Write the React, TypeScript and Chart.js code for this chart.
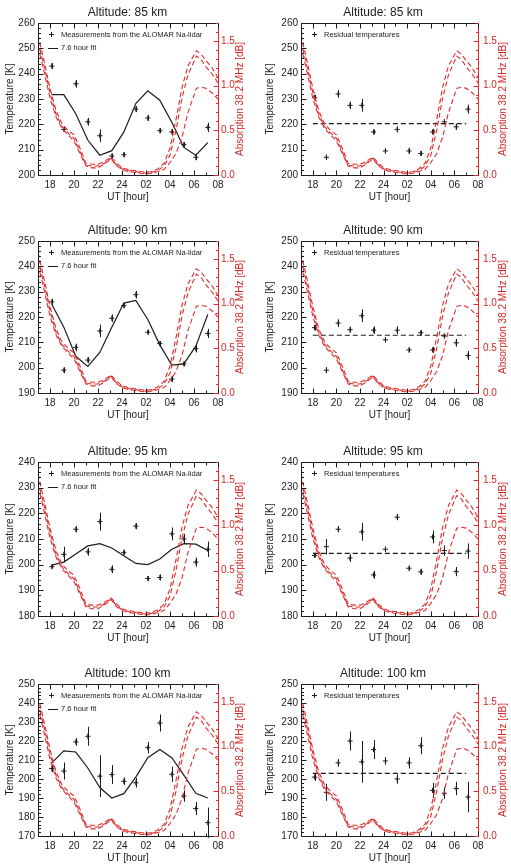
import React, { useEffect, useRef } from 'react';
import { Chart, registerables } from 'chart.js';

Chart.register(...registerables);
Chart.defaults.font.family = '"Liberation Sans", Arial, Helvetica, sans-serif';
Chart.defaults.color = '#222';

// ---------- data ----------
const HOURS = [18.15, 19.15, 20.15, 21.15, 22.15, 23.15, 24.15, 25.15, 26.15, 27.15, 28.15, 29.15, 30.15, 31.15];

const X_TICKS = [18, 20, 22, 24, 26, 28, 30, 32];
const X_LABELS = ['18', '20', '22', '24', '02', '04', '06', '08'];
const ABS_TICKS = [0, 0.5, 1.0, 1.5];

// radio absorption curves (dB)
const ABS_HOURS = [17, 17.5, 18, 18.5, 19, 19.5, 20, 20.5, 21, 21.5, 22, 22.5, 23.1, 23.5, 24, 24.5, 25, 25.5, 26, 26.5, 27, 27.5, 28, 28.5, 29, 29.5, 30.2, 30.6, 31, 31.5, 32];
const ABS_UPPER = [1.57, 1.28, 0.97, 0.72, 0.57, 0.50, 0.45, 0.30, 0.13, 0.12, 0.12, 0.15, 0.20, 0.14, 0.08, 0.06, 0.05, 0.04, 0.03, 0.04, 0.07, 0.13, 0.30, 0.62, 0.98, 1.22, 1.39, 1.35, 1.28, 1.20, 1.09];
const ABS_MIDDLE = [1.50, 1.22, 0.92, 0.68, 0.54, 0.47, 0.41, 0.26, 0.11, 0.10, 0.10, 0.13, 0.19, 0.12, 0.07, 0.05, 0.04, 0.03, 0.02, 0.03, 0.05, 0.10, 0.22, 0.50, 0.86, 1.12, 1.33, 1.29, 1.21, 1.13, 1.03];
const ABS_LOWER = [1.44, 1.16, 0.86, 0.65, 0.52, 0.45, 0.38, 0.24, 0.10, 0.08, 0.08, 0.12, 0.18, 0.11, 0.06, 0.04, 0.03, 0.02, 0.01, 0.02, 0.04, 0.06, 0.14, 0.24, 0.42, 0.70, 0.97, 0.98, 0.97, 0.92, 0.85];

// 85 km
const T85 = [243, 218, 236, 221, 215.5, 207.5, 208, 226, 222.5, 217.5, 217, 212, 207, 218.8];
const E85 = [1.2, 1, 1.5, 1.5, 2.5, 1, 1, 1.2, 1.2, 1, 1.2, 1, 1.2, 1.8];
const FIT85 = [231.7, 231.7, 224.2, 213.8, 207.8, 209.6, 216.9, 228.2, 233.2, 229.5, 220.8, 210.9, 207.8, 212.8];
const RES85 = [230.5, 207, 232, 227.5, 227.5, 217, 209.5, 218, 209.5, 208.5, 217, 221, 219, 226];
const MEAN85 = 220.3;

// 90 km
const T90 = [226, 199, 208, 203, 214.5, 219.5, 224.5, 228.8, 214, 209.5, 195.5, 201.5, 207.5, 213.5];
const E90 = [1.2, 1.2, 1.5, 1.2, 2.5, 1.5, 1, 1.5, 1, 1, 1.2, 1, 1.5, 1.8];
const FIT90 = [225, 216, 204.5, 200.5, 206, 216, 225.5, 226.5, 219, 209, 201, 201.5, 208.5, 221];
const RES90 = [215.8, 199, 217.6, 215, 220.5, 214.8, 211, 214.8, 207, 213.8, 207, 212.5, 209.8, 204.8];
const MEAN90 = 212.8;

// 95 km
const T95 = [199.2, 204, 213.8, 205, 216.8, 198.2, 204.8, 215, 194.6, 195, 212, 210, 201, 206];
const E95 = [0.8, 3, 1.2, 1.5, 3.5, 1.5, 1, 1.2, 1, 1.2, 2.5, 2, 1.8, 3];
const FIT95 = [199.8, 201, 204.2, 207.3, 208.2, 206.5, 203.5, 200.5, 200, 202.2, 206, 208.2, 208, 205.5];
const RES95 = [203.6, 207, 213.8, 202.6, 212.8, 196, 206, 218.5, 198.6, 197.2, 210.8, 205.5, 197.3, 205.3];
const MEAN95 = 204.4;

// 100 km
const T100 = [205.5, 204.2, 219.5, 222.5, 201.5, 202.3, 198.8, 198, 216.5, 229.5, 202.5, 191, 184.5, 177];
const E100 = [2, 4.5, 2, 5, 11, 5, 2, 2.5, 3, 4.5, 4, 3, 3.5, 8];
const FIT100 = [208.5, 214.8, 214.2, 205.8, 195.5, 190, 192.3, 201, 211.2, 215.5, 211.2, 202, 192.5, 190];
const RES100 = [201, 193, 208.5, 220, 209, 215.5, 209.5, 200, 208.5, 217.5, 194, 192.5, 195, 190.5];
const MEAN100 = 203;

const ALTITUDES = [85, 90, 95, 100];
const Y_MIN = [200, 190, 180, 170];
const Y_MAX = [260, 250, 240, 250];

// ---------- layout ----------
const COL_X = [0, 255];
const COL_W = [255, 256];
const PLOT_LEFT = [38, 46];
const PLOT_RIGHT = [218, 223];
const LEFT_TITLE_PAD = [4, 9];
const RIGHT_TICK_PAD = [3, 5];
const RIGHT_TITLE_OFF = [22, 25];
const ROW_Y = [0, 217, 434, 651];
const PLOT_TOP = [23, 24, 28, 33];
const PLOT_BOTTOM = [175, 176, 182, 185];
const CANVAS_H = 217;

const RED = 'rgb(222,44,44)';
const RED_TXT = 'rgb(212,40,40)';
const INK = '#1c1c1c';

type PanelDef = {
  row: number;
  col: number;
  kind: 'meas' | 'res';
  values: number[];
  errs: number[];
  fit?: number[];
  mean?: number;
};

const PANELS: PanelDef[] = [
  { row: 0, col: 0, kind: 'meas', values: T85, errs: E85, fit: FIT85 },
  { row: 0, col: 1, kind: 'res', values: RES85, errs: E85, mean: MEAN85 },
  { row: 1, col: 0, kind: 'meas', values: T90, errs: E90, fit: FIT90 },
  { row: 1, col: 1, kind: 'res', values: RES90, errs: E90, mean: MEAN90 },
  { row: 2, col: 0, kind: 'meas', values: T95, errs: E95, fit: FIT95 },
  { row: 2, col: 1, kind: 'res', values: RES95, errs: E95, mean: MEAN95 },
  { row: 3, col: 0, kind: 'meas', values: T100, errs: E100, fit: FIT100 },
  { row: 3, col: 1, kind: 'res', values: RES100, errs: E100, mean: MEAN100 },
];

function line(ctx: CanvasRenderingContext2D, x1: number, y1: number, x2: number, y2: number) {
  ctx.beginPath();
  ctx.moveTo(x1, y1);
  ctx.lineTo(x2, y2);
  ctx.stroke();
}

function makePlugin(p: PanelDef) {
  const col = p.col;
  return {
    id: 'idlFrame',
    beforeDatasetsDraw(chart: any) {
      const ctx: CanvasRenderingContext2D = chart.ctx;
      const xs = chart.scales.x;
      const ys = chart.scales.y;
      ctx.save();
      ctx.strokeStyle = INK;
      ctx.lineWidth = 1;
      chart.data.datasets.forEach((ds: any) => {
        if (!ds.errs) return;
        ds.data.forEach((pt: any, j: number) => {
          const e = ds.errs[j];
          const px = Math.round(xs.getPixelForValue(pt.x)) + 0.5;
          const yA = ys.getPixelForValue(pt.y - e);
          const yB = ys.getPixelForValue(pt.y + e);
          line(ctx, px, yA, px, yB);
        });
      });
      ctx.restore();
    },
    afterDraw(chart: any) {
      const ctx: CanvasRenderingContext2D = chart.ctx;
      const { left, right, top, bottom } = chart.chartArea;
      const xs = chart.scales.x;
      const ys = chart.scales.y;
      const y1 = chart.scales.y1;
      ctx.save();
      ctx.lineWidth = 1;
      // frame
      const L = Math.round(left) + 0.5, R = Math.round(right) + 0.5;
      const T = Math.round(top) + 0.5, B = Math.round(bottom) + 0.5;
      ctx.strokeStyle = INK;
      line(ctx, L, T, R, T);
      line(ctx, L, B, R, B);
      line(ctx, L, T, L, B);
      ctx.strokeStyle = RED;
      line(ctx, R, T, R, B);
      // x ticks (inward)
      ctx.strokeStyle = INK;
      for (let h = 17; h <= 32; h++) {
        const px = Math.round(xs.getPixelForValue(h)) + 0.5;
        const len = h % 2 === 0 ? 5 : 3;
        line(ctx, px, B, px, B - len);
        line(ctx, px, T, px, T + len);
      }
      // left y ticks
      for (let v = ys.min; v <= ys.max + 0.01; v += 2) {
        const py = Math.round(ys.getPixelForValue(v)) + 0.5;
        const len = Math.round(v) % 10 === 0 ? 5 : 2.5;
        line(ctx, L, py, L + len, py);
      }
      // right y ticks
      ctx.strokeStyle = RED;
      for (let k = 0; k <= 17; k++) {
        const py = Math.round(y1.getPixelForValue(k / 10)) + 0.5;
        const len = k % 5 === 0 ? 5 : 2.5;
        line(ctx, R, py, R - len, py);
      }
      // right axis title
      ctx.fillStyle = RED_TXT;
      ctx.font = '10px "Liberation Sans", Arial, sans-serif';
      ctx.textAlign = 'center';
      ctx.textBaseline = 'middle';
      ctx.save();
      ctx.translate(right + RIGHT_TITLE_OFF[col], (top + bottom) / 2);
      ctx.rotate(-Math.PI / 2);
      ctx.fillText('Absorption 38.2 MHz [dB]', 0, 0);
      ctx.restore();
      // legend
      ctx.fillStyle = INK;
      ctx.strokeStyle = INK;
      ctx.font = '7.5px "Liberation Sans", Arial, sans-serif';
      ctx.textAlign = 'left';
      ctx.textBaseline = 'middle';
      const ly1 = Math.round(top + 11) + 0.5;
      const cx = Math.round(left + 13) + 0.5;
      line(ctx, cx - 2.5, ly1, cx + 2.5, ly1);
      line(ctx, cx, ly1 - 2.5, cx, ly1 + 2.5);
      if (p.kind === 'meas') {
        ctx.fillText('Measurements from the ALOMAR Na-lidar', left + 23, ly1);
        const ly2 = Math.round(top + 25) + 0.5;
        line(ctx, left + 10, ly2, left + 20, ly2);
        ctx.fillText('7.6 hour fit', left + 23, ly2 - 1);
      } else {
        ctx.fillText('Residual temperatures', left + 23, ly1);
      }
      ctx.restore();
    },
  };
}

function buildConfig(p: PanelDef): any {
  const { row, col } = p;
  const w = COL_W[col];
  const absSets = [ABS_UPPER, ABS_MIDDLE, ABS_LOWER].map((arr) => ({
    type: 'line',
    data: ABS_HOURS.map((h, i) => ({ x: h, y: arr[i] })),
    yAxisID: 'y1',
    borderColor: RED,
    borderWidth: 1.1,
    borderDash: [5, 3],
    pointRadius: 0,
    tension: 0,
    fill: false,
  }));
  const second =
    p.kind === 'meas'
      ? {
          type: 'line',
          data: HOURS.map((h, i) => ({ x: h, y: (p.fit as number[])[i] })),
          yAxisID: 'y',
          borderColor: INK,
          borderWidth: 1.2,
          pointRadius: 0,
          tension: 0,
          fill: false,
        }
      : {
          type: 'line',
          data: [
            { x: 18, y: p.mean as number },
            { x: 31, y: p.mean as number },
          ],
          yAxisID: 'y',
          borderColor: INK,
          borderWidth: 1.2,
          borderDash: [5, 3],
          pointRadius: 0,
          fill: false,
        };
  const points = {
    type: 'line',
    data: HOURS.map((h, i) => ({ x: h, y: p.values[i] })),
    errs: p.errs,
    yAxisID: 'y',
    showLine: false,
    pointStyle: 'cross',
    pointRadius: 2.6,
    pointBorderWidth: 1,
    borderColor: INK,
    pointBorderColor: INK,
    fill: false,
  };

  return {
    type: 'line',
    data: { datasets: [...absSets, second, points] },
    plugins: [makePlugin(p)],
    options: {
      responsive: false,
      animation: false,
      devicePixelRatio: 1,
      events: [],
      layout: { padding: { left: 0, right: 0, top: 0, bottom: CANVAS_H - PLOT_BOTTOM[row] - 30 } },
      plugins: {
        legend: { display: false },
        tooltip: { enabled: false },
        title: {
          display: true,
          text: 'Altitude: ' + ALTITUDES[row] + ' km',
          color: INK,
          font: { size: 12, weight: 'normal' },
          padding: { top: PLOT_TOP[row] - 17.2, bottom: 2.8 },
        },
      },
      scales: {
        x: {
          type: 'linear',
          min: 17,
          max: 32,
          grid: { display: false, drawTicks: false },
          border: { display: false },
          afterBuildTicks: (s: any) => {
            s.ticks = X_TICKS.map((v) => ({ value: v }));
          },
          afterFit: (s: any) => {
            s.height = 30;
          },
          ticks: {
            autoSkip: false,
            maxRotation: 0,
            padding: 4,
            color: INK,
            font: { size: 10 },
            callback: (v: number) => X_LABELS[X_TICKS.indexOf(v)] ?? '',
          },
          title: {
            display: true,
            text: 'UT [hour]',
            color: INK,
            font: { size: 10 },
            padding: { top: 0, bottom: 2 },
          },
        },
        y: {
          type: 'linear',
          position: 'left',
          min: Y_MIN[row],
          max: Y_MAX[row],
          grid: { display: false, drawTicks: false },
          border: { display: false },
          afterFit: (s: any) => {
            s.width = PLOT_LEFT[col];
          },
          ticks: { stepSize: 10, padding: 3, color: INK, font: { size: 10 } },
          title: {
            display: true,
            text: 'Temperature [K]',
            color: INK,
            font: { size: 10 },
            padding: { top: LEFT_TITLE_PAD[col], bottom: 0 },
          },
        },
        y1: {
          type: 'linear',
          position: 'right',
          min: 0,
          max: 1.7,
          grid: { display: false, drawTicks: false },
          border: { display: false },
          afterBuildTicks: (s: any) => {
            s.ticks = ABS_TICKS.map((v) => ({ value: v }));
          },
          afterFit: (s: any) => {
            s.width = w - PLOT_RIGHT[col];
          },
          ticks: {
            padding: RIGHT_TICK_PAD[col],
            color: RED_TXT,
            font: { size: 10 },
            callback: (v: number) => Number(v).toFixed(1),
          },
        },
      },
    },
  };
}

function Panel({ p }: { p: PanelDef }) {
  const ref = useRef<HTMLCanvasElement | null>(null);
  useEffect(() => {
    if (!ref.current) return;
    const chart = new Chart(ref.current, buildConfig(p));
    return () => chart.destroy();
  }, [p]);
  const w = COL_W[p.col];
  return (
    <canvas
      ref={ref}
      width={w}
      height={CANVAS_H}
      style={{ position: 'absolute', left: COL_X[p.col], top: ROW_Y[p.row], width: w, height: CANVAS_H }}
    />
  );
}

export default function App() {
  return (
    <div style={{ position: 'absolute', left: 0, top: 0, width: 511, height: 868, background: '#fff' }}>
      {PANELS.map((p, i) => (
        <Panel key={i} p={p} />
      ))}
    </div>
  );
}
